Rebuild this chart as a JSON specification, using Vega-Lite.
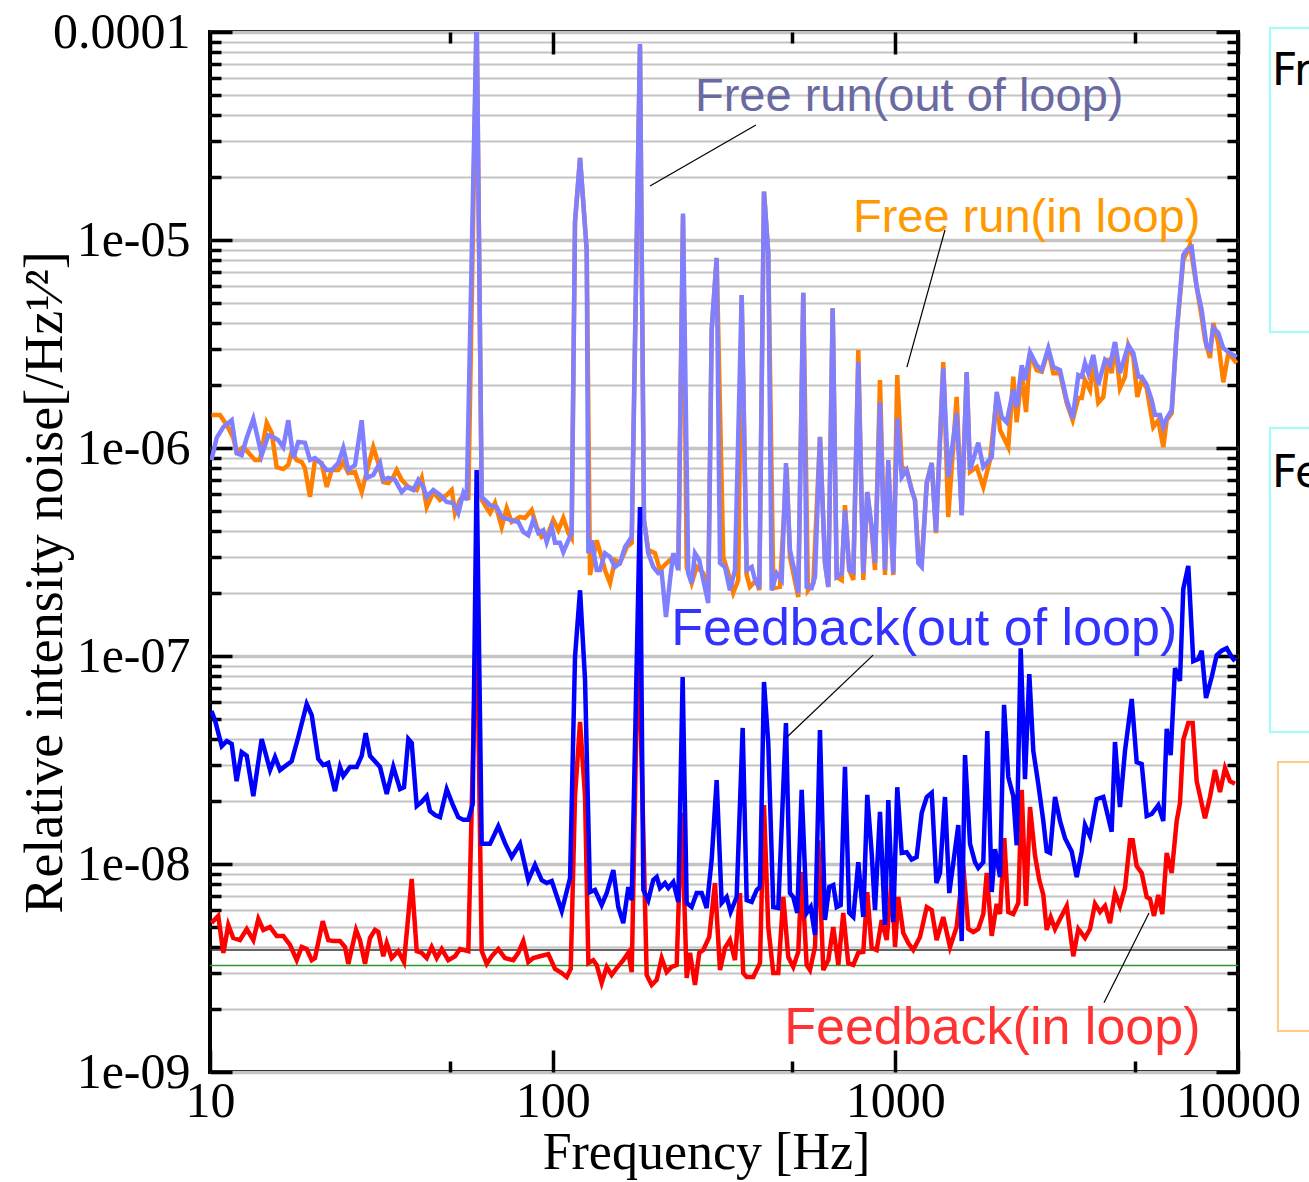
{
"$schema":"https://vega.github.io/schema/vega-lite/v6.json",
"width":1028,"height":1040,
"autosize":{"type":"none"},
"padding":{"left":210,"top":32,"right":71,"bottom":110},
"background":"white",
"config":{"view":{"stroke":"black","strokeWidth":4},"font":"Liberation Sans"},
"datasets":{
"free_in":[{"f":10.1,"v":1.44e-6},{"f":10.69,"v":1.44e-6},{"f":11.19,"v":1.29e-6},{"f":11.69,"v":1.12e-6},{"f":11.96,"v":9.57e-7},{"f":12.51,"v":1.01e-6},{"f":13.53,"v":8.75e-7},{"f":13.99,"v":8.75e-7},{"f":14.64,"v":1.32e-6},{"f":15.14,"v":1.18e-6},{"f":15.65,"v":8.1e-7},{"f":16.36,"v":7.92e-7},{"f":16.92,"v":8.28e-7},{"f":17.31,"v":9.57e-7},{"f":17.91,"v":8.75e-7},{"f":18.52,"v":8.56e-7},{"f":18.93,"v":8.0e-7},{"f":19.58,"v":5.82e-7},{"f":20.25,"v":8.75e-7},{"f":21.18,"v":8.47e-7},{"f":21.91,"v":6.5e-7},{"f":22.66,"v":7.84e-7},{"f":23.68,"v":7.84e-7},{"f":24.49,"v":8.56e-7},{"f":25.33,"v":7.58e-7},{"f":26.49,"v":7.67e-7},{"f":27.71,"v":6.14e-7},{"f":28.66,"v":7.67e-7},{"f":29.96,"v":1.01e-6},{"f":30.99,"v":8.47e-7},{"f":32.04,"v":6.86e-7},{"f":33.14,"v":6.79e-7},{"f":34.27,"v":7.25e-7},{"f":35.06,"v":7.84e-7},{"f":36.26,"v":7.03e-7},{"f":37.91,"v":6.5e-7},{"f":40.11,"v":6.28e-7},{"f":41.48,"v":7.18e-7},{"f":42.9,"v":5.2e-7},{"f":44.85,"v":6.14e-7},{"f":46.91,"v":5.63e-7},{"f":49.07,"v":5.94e-7},{"f":50.74,"v":6.28e-7},{"f":51.88,"v":4.87e-7},{"f":53.65,"v":5.63e-7},{"f":55.49,"v":6.07e-7},{"f":56.73,"v":5.63e-7},{"f":60.0,"v":1.2e-4},{"f":62.07,"v":5.63e-7},{"f":64.21,"v":5.14e-7},{"f":65.64,"v":4.87e-7},{"f":67.87,"v":5.44e-7},{"f":71.0,"v":4.17e-7},{"f":73.43,"v":5.14e-7},{"f":75.93,"v":4.41e-7},{"f":80.3,"v":4.66e-7},{"f":83.04,"v":4.61e-7},{"f":86.85,"v":5.03e-7},{"f":89.83,"v":4.17e-7},{"f":92.9,"v":3.74e-7},{"f":97.12,"v":3.9e-7},{"f":100.4,"v":4.51e-7},{"f":103.9,"v":4.03e-7},{"f":107.4,"v":4.61e-7},{"f":111.1,"v":3.9e-7},{"f":113.6,"v":3.69e-7},{"f":116.2,"v":1.22e-5},{"f":120.2,"v":2.48e-5},{"f":125.7,"v":8.95e-6},{"f":128.5,"v":2.45e-7},{"f":134.4,"v":3.6e-7},{"f":139.0,"v":2.99e-7},{"f":142.1,"v":2.59e-7},{"f":147.0,"v":2.24e-7},{"f":152.0,"v":2.89e-7},{"f":157.2,"v":2.8e-7},{"f":164.4,"v":3.34e-7},{"f":170.1,"v":3.5e-7},{"f":179.8,"v":8.5e-5},{"f":184.7,"v":4.51e-7},{"f":190.1,"v":3.23e-7},{"f":198.9,"v":3.12e-7},{"f":205.7,"v":2.59e-7},{"f":215.1,"v":2.8e-7},{"f":224.9,"v":2.99e-7},{"f":232.6,"v":2.74e-7},{"f":240.1,"v":1.3e-5},{"f":246.1,"v":2.68e-7},{"f":254.5,"v":2.24e-7},{"f":263.2,"v":2.68e-7},{"f":275.1,"v":2.5e-7},{"f":284.5,"v":2.07e-7},{"f":291.1,"v":3.69e-6},{"f":301.0,"v":8.2e-6},{"f":314.7,"v":2.99e-7},{"f":325.4,"v":2.5e-7},{"f":336.5,"v":2.01e-7},{"f":348.0,"v":2.32e-7},{"f":356.1,"v":5.44e-6},{"f":368.3,"v":2.45e-7},{"f":376.5,"v":2.15e-7},{"f":393.9,"v":2.32e-7},{"f":400.9,"v":2.07e-7},{"f":413.7,"v":1.71e-5},{"f":425.8,"v":8.66e-6},{"f":440.4,"v":2.12e-7},{"f":460.6,"v":2.15e-7},{"f":481.8,"v":8.1e-7},{"f":492.6,"v":2.99e-7},{"f":520.9,"v":1.92e-7},{"f":538.7,"v":5.58e-6},{"f":555.9,"v":2.07e-7},{"f":576.2,"v":2.24e-7},{"f":602.6,"v":1.13e-6},{"f":623.3,"v":2.8e-7},{"f":637.4,"v":2.15e-7},{"f":656.4,"v":4.7e-6},{"f":674.3,"v":2.4e-7},{"f":697.3,"v":2.32e-7},{"f":712.9,"v":5.31e-7},{"f":733.8,"v":2.59e-7},{"f":754.0,"v":2.32e-7},{"f":779.7,"v":2.96e-6},{"f":806.3,"v":2.32e-7},{"f":828.2,"v":6.14e-7},{"f":853.0,"v":4.03e-7},{"f":872.2,"v":2.59e-7},{"f":902.0,"v":2.12e-6},{"f":932.8,"v":2.45e-7},{"f":953.7,"v":8.28e-7},{"f":986.3,"v":2.45e-7},{"f":1013,"v":2.24e-6},{"f":1044,"v":8.1e-7},{"f":1079,"v":7.84e-7},{"f":1116,"v":6.28e-7},{"f":1141,"v":5.63e-7},{"f":1167,"v":3.12e-7},{"f":1194,"v":2.89e-7},{"f":1235,"v":6.79e-7},{"f":1277,"v":8.47e-7},{"f":1314,"v":3.9e-7},{"f":1380,"v":2.59e-6},{"f":1427,"v":4.66e-7},{"f":1510,"v":1.76e-6},{"f":1562,"v":4.76e-7},{"f":1615,"v":2.29e-6},{"f":1652,"v":7.67e-7},{"f":1728,"v":8.1e-7},{"f":1806,"v":6.5e-7},{"f":1889,"v":8.75e-7},{"f":1976,"v":1.76e-6},{"f":2021,"v":1.22e-6},{"f":2136,"v":1.01e-6},{"f":2209,"v":2.2e-6},{"f":2260,"v":1.33e-6},{"f":2338,"v":2.29e-6},{"f":2406,"v":1.49e-6},{"f":2472,"v":2.86e-6},{"f":2585,"v":2.37e-6},{"f":2674,"v":2.33e-6},{"f":2795,"v":2.96e-6},{"f":2891,"v":2.29e-6},{"f":3024,"v":2.29e-6},{"f":3163,"v":1.65e-6},{"f":3293,"v":1.36e-6},{"f":3420,"v":1.74e-6},{"f":3499,"v":1.74e-6},{"f":3577,"v":2.12e-6},{"f":3699,"v":1.9e-6},{"f":3782,"v":2.56e-6},{"f":3911,"v":1.65e-6},{"f":4045,"v":1.76e-6},{"f":4183,"v":2.71e-6},{"f":4279,"v":2.29e-6},{"f":4376,"v":3.2e-6},{"f":4524,"v":1.94e-6},{"f":4680,"v":2.2e-6},{"f":4785,"v":3.12e-6},{"f":4949,"v":2.74e-6},{"f":5084,"v":1.76e-6},{"f":5236,"v":2.12e-6},{"f":5415,"v":1.94e-6},{"f":5660,"v":1.26e-6},{"f":5853,"v":1.36e-6},{"f":6053,"v":1.01e-6},{"f":6193,"v":1.36e-6},{"f":6404,"v":1.47e-6},{"f":6623,"v":3.57e-6},{"f":6923,"v":8.0e-6},{"f":7244,"v":9.45e-6},{"f":7577,"v":5.94e-6},{"f":7835,"v":4.26e-6},{"f":8010,"v":3.31e-6},{"f":8284,"v":2.71e-6},{"f":8470,"v":3.99e-6},{"f":8760,"v":3.2e-6},{"f":9060,"v":2.07e-6},{"f":9370,"v":2.86e-6},{"f":9913,"v":2.56e-6}],
"free_out":[{"f":10.1,"v":8.75e-7},{"f":10.46,"v":1.12e-6},{"f":10.94,"v":1.26e-6},{"f":11.57,"v":1.36e-6},{"f":11.96,"v":9.45e-7},{"f":12.37,"v":9.24e-7},{"f":12.8,"v":1.12e-6},{"f":13.38,"v":1.38e-6},{"f":14.15,"v":9.24e-7},{"f":14.8,"v":1.15e-6},{"f":15.3,"v":1.13e-6},{"f":15.82,"v":1.09e-6},{"f":16.36,"v":1.01e-6},{"f":16.92,"v":1.36e-6},{"f":17.51,"v":8.95e-7},{"f":18.1,"v":1.07e-6},{"f":18.93,"v":1.06e-6},{"f":19.58,"v":8.75e-7},{"f":20.25,"v":8.95e-7},{"f":20.94,"v":8.56e-7},{"f":21.91,"v":7.84e-7},{"f":22.66,"v":7.84e-7},{"f":23.68,"v":8.47e-7},{"f":24.49,"v":1.0e-6},{"f":25.33,"v":7.84e-7},{"f":26.49,"v":8.28e-7},{"f":27.71,"v":1.36e-6},{"f":28.66,"v":7.18e-7},{"f":29.96,"v":7.42e-7},{"f":31.34,"v":8.47e-7},{"f":32.04,"v":7.03e-7},{"f":33.14,"v":7.18e-7},{"f":34.67,"v":7.03e-7},{"f":36.26,"v":6.14e-7},{"f":37.5,"v":6.5e-7},{"f":39.21,"v":6.28e-7},{"f":40.54,"v":7.03e-7},{"f":41.94,"v":6.5e-7},{"f":42.9,"v":5.82e-7},{"f":44.85,"v":6.28e-7},{"f":46.91,"v":5.94e-7},{"f":49.07,"v":5.5e-7},{"f":51.29,"v":5.44e-7},{"f":53.03,"v":4.87e-7},{"f":54.86,"v":6.07e-7},{"f":56.13,"v":5.63e-7},{"f":60.0,"v":1.2e-4},{"f":62.07,"v":5.82e-7},{"f":65.64,"v":5.31e-7},{"f":68.66,"v":5.2e-7},{"f":71.0,"v":4.66e-7},{"f":75.08,"v":4.51e-7},{"f":79.37,"v":4.41e-7},{"f":82.08,"v":3.95e-7},{"f":84.9,"v":3.81e-7},{"f":87.79,"v":4.51e-7},{"f":90.8,"v":3.9e-7},{"f":93.91,"v":4.03e-7},{"f":96.07,"v":3.53e-7},{"f":99.36,"v":4.17e-7},{"f":101.6,"v":3.5e-7},{"f":105.0,"v":3.5e-7},{"f":107.4,"v":3.16e-7},{"f":111.1,"v":3.6e-7},{"f":113.6,"v":3.9e-7},{"f":116.2,"v":1.22e-5},{"f":120.2,"v":2.48e-5},{"f":125.7,"v":8.95e-6},{"f":127.1,"v":3.12e-7},{"f":130.0,"v":3.6e-7},{"f":134.4,"v":2.59e-7},{"f":137.4,"v":2.59e-7},{"f":142.1,"v":3.12e-7},{"f":147.0,"v":2.99e-7},{"f":152.0,"v":2.68e-7},{"f":157.2,"v":2.8e-7},{"f":162.6,"v":3.34e-7},{"f":170.1,"v":3.74e-7},{"f":179.8,"v":8.75e-5},{"f":184.7,"v":4.51e-7},{"f":190.1,"v":3.12e-7},{"f":196.6,"v":2.68e-7},{"f":203.3,"v":2.5e-7},{"f":208.0,"v":2.53e-7},{"f":214.1,"v":1.54e-7},{"f":220.0,"v":2.32e-7},{"f":224.9,"v":3.12e-7},{"f":232.6,"v":2.59e-7},{"f":240.1,"v":1.34e-5},{"f":248.7,"v":2.5e-7},{"f":254.5,"v":2.24e-7},{"f":260.2,"v":3.12e-7},{"f":267.8,"v":2.89e-7},{"f":275.1,"v":2.32e-7},{"f":284.5,"v":1.8e-7},{"f":291.1,"v":3.69e-6},{"f":301.0,"v":8.2e-6},{"f":307.8,"v":2.8e-7},{"f":318.3,"v":2.68e-7},{"f":329.1,"v":2.07e-7},{"f":340.4,"v":2.59e-7},{"f":356.1,"v":5.44e-6},{"f":368.3,"v":2.59e-7},{"f":380.9,"v":2.68e-7},{"f":389.5,"v":2.32e-7},{"f":400.9,"v":2.12e-7},{"f":413.7,"v":1.71e-5},{"f":425.8,"v":8.66e-6},{"f":435.6,"v":2.07e-7},{"f":450.5,"v":2.5e-7},{"f":465.9,"v":2.32e-7},{"f":479.5,"v":8.47e-7},{"f":492.6,"v":3.23e-7},{"f":509.5,"v":2.5e-7},{"f":520.9,"v":2.01e-7},{"f":538.7,"v":5.58e-6},{"f":551.1,"v":2.15e-7},{"f":570.0,"v":2.12e-7},{"f":582.9,"v":2.4e-7},{"f":602.6,"v":1.13e-6},{"f":623.3,"v":2.8e-7},{"f":637.4,"v":2.15e-7},{"f":656.4,"v":4.7e-6},{"f":674.3,"v":2.4e-7},{"f":697.3,"v":2.5e-7},{"f":712.9,"v":5.03e-7},{"f":733.8,"v":2.59e-7},{"f":754.0,"v":2.53e-7},{"f":779.7,"v":2.59e-6},{"f":806.3,"v":2.5e-7},{"f":828.2,"v":6.14e-7},{"f":853.0,"v":4.17e-7},{"f":872.2,"v":2.8e-7},{"f":902.0,"v":1.66e-6},{"f":932.8,"v":2.59e-7},{"f":953.7,"v":8.75e-7},{"f":986.3,"v":2.5e-7},{"f":1013,"v":1.39e-6},{"f":1044,"v":7.25e-7},{"f":1079,"v":7.84e-7},{"f":1116,"v":6.28e-7},{"f":1141,"v":5.63e-7},{"f":1167,"v":2.8e-7},{"f":1194,"v":2.68e-7},{"f":1235,"v":6.79e-7},{"f":1277,"v":8.47e-7},{"f":1314,"v":3.95e-7},{"f":1380,"v":2.43e-6},{"f":1427,"v":7.25e-7},{"f":1510,"v":1.47e-6},{"f":1562,"v":4.76e-7},{"f":1615,"v":2.32e-6},{"f":1652,"v":7.84e-7},{"f":1746,"v":1.06e-6},{"f":1806,"v":8.1e-7},{"f":1911,"v":9.05e-7},{"f":1976,"v":1.86e-6},{"f":2044,"v":1.41e-6},{"f":2113,"v":1.33e-6},{"f":2209,"v":1.9e-6},{"f":2260,"v":1.57e-6},{"f":2338,"v":2.5e-6},{"f":2390,"v":2.12e-6},{"f":2472,"v":2.89e-6},{"f":2585,"v":2.5e-6},{"f":2674,"v":2.37e-6},{"f":2795,"v":3.02e-6},{"f":2891,"v":2.45e-6},{"f":3024,"v":2.37e-6},{"f":3163,"v":1.7e-6},{"f":3293,"v":1.39e-6},{"f":3420,"v":2.24e-6},{"f":3499,"v":2.2e-6},{"f":3577,"v":2.56e-6},{"f":3657,"v":2.29e-6},{"f":3782,"v":2.8e-6},{"f":3911,"v":2.01e-6},{"f":4092,"v":2.65e-6},{"f":4231,"v":2.5e-6},{"f":4376,"v":3.23e-6},{"f":4524,"v":2.29e-6},{"f":4785,"v":3.12e-6},{"f":4949,"v":2.86e-6},{"f":5118,"v":2.2e-6},{"f":5236,"v":2.2e-6},{"f":5415,"v":2.01e-6},{"f":5600,"v":1.7e-6},{"f":5725,"v":1.44e-6},{"f":5921,"v":1.44e-6},{"f":6053,"v":1.26e-6},{"f":6193,"v":1.39e-6},{"f":6404,"v":1.52e-6},{"f":6623,"v":3.61e-6},{"f":6923,"v":8.47e-6},{"f":7083,"v":8.95e-6},{"f":7326,"v":9.24e-6},{"f":7577,"v":5.94e-6},{"f":7835,"v":4.61e-6},{"f":8103,"v":3.06e-6},{"f":8284,"v":2.96e-6},{"f":8470,"v":3.78e-6},{"f":8760,"v":3.57e-6},{"f":9060,"v":3.02e-6},{"f":9477,"v":2.86e-6},{"f":9913,"v":2.74e-6}],
"fb_in":[{"f":10.1,"v":5.2e-9},{"f":10.57,"v":5.63e-9},{"f":10.94,"v":3.74e-9},{"f":11.31,"v":5.09e-9},{"f":11.69,"v":4.41e-9},{"f":12.23,"v":4.31e-9},{"f":12.8,"v":4.87e-9},{"f":13.38,"v":4.31e-9},{"f":13.84,"v":5.44e-9},{"f":14.31,"v":4.82e-9},{"f":14.97,"v":4.98e-9},{"f":15.65,"v":4.51e-9},{"f":16.36,"v":4.51e-9},{"f":17.12,"v":4.08e-9},{"f":17.91,"v":3.45e-9},{"f":18.52,"v":3.99e-9},{"f":19.15,"v":3.9e-9},{"f":19.81,"v":3.45e-9},{"f":20.25,"v":3.53e-9},{"f":21.33,"v":5.31e-9},{"f":22.14,"v":4.31e-9},{"f":22.9,"v":4.26e-9},{"f":23.95,"v":4.26e-9},{"f":24.77,"v":3.99e-9},{"f":25.33,"v":3.31e-9},{"f":26.68,"v":4.82e-9},{"f":27.4,"v":4.31e-9},{"f":28.34,"v":3.31e-9},{"f":29.31,"v":4.41e-9},{"f":30.31,"v":4.82e-9},{"f":30.99,"v":4.71e-9},{"f":32.04,"v":3.6e-9},{"f":32.79,"v":4.17e-9},{"f":33.9,"v":3.53e-9},{"f":35.43,"v":3.81e-9},{"f":36.83,"v":3.38e-9},{"f":38.78,"v":8.47e-9},{"f":40.11,"v":3.81e-9},{"f":41.48,"v":3.74e-9},{"f":42.9,"v":3.53e-9},{"f":44.36,"v":3.99e-9},{"f":45.88,"v":3.53e-9},{"f":47.46,"v":3.9e-9},{"f":49.59,"v":3.45e-9},{"f":51.88,"v":3.6e-9},{"f":53.65,"v":3.9e-9},{"f":56.73,"v":3.81e-9},{"f":60.0,"v":1.86e-7},{"f":62.07,"v":3.81e-9},{"f":64.21,"v":3.31e-9},{"f":66.38,"v":3.6e-9},{"f":69.39,"v":3.9e-9},{"f":72.59,"v":3.53e-9},{"f":76.75,"v":3.45e-9},{"f":79.37,"v":3.74e-9},{"f":82.08,"v":4.26e-9},{"f":84.9,"v":3.38e-9},{"f":87.79,"v":3.53e-9},{"f":91.84,"v":3.6e-9},{"f":97.12,"v":3.69e-9},{"f":101.6,"v":3.13e-9},{"f":106.3,"v":2.99e-9},{"f":109.9,"v":2.86e-9},{"f":112.9,"v":3.13e-9},{"f":116.2,"v":2.12e-8},{"f":120.2,"v":4.82e-8},{"f":124.3,"v":2.12e-8},{"f":127.1,"v":3.34e-9},{"f":131.4,"v":3.45e-9},{"f":134.4,"v":3.27e-9},{"f":139.0,"v":2.68e-9},{"f":143.8,"v":3.2e-9},{"f":148.6,"v":2.93e-9},{"f":153.7,"v":3.16e-9},{"f":160.7,"v":3.45e-9},{"f":166.3,"v":3.74e-9},{"f":170.1,"v":3.02e-9},{"f":177.8,"v":1.44e-7},{"f":188.1,"v":2.93e-9},{"f":194.5,"v":2.62e-9},{"f":201.2,"v":2.77e-9},{"f":208.0,"v":3.53e-9},{"f":215.1,"v":3.02e-9},{"f":222.5,"v":3.2e-9},{"f":230.1,"v":3.27e-9},{"f":237.9,"v":1.76e-8},{"f":246.1,"v":2.83e-9},{"f":251.6,"v":3.74e-9},{"f":260.2,"v":2.62e-9},{"f":267.8,"v":3.74e-9},{"f":275.1,"v":3.86e-9},{"f":286.4,"v":4.46e-9},{"f":297.6,"v":8.1e-9},{"f":307.8,"v":3.09e-9},{"f":318.3,"v":3.95e-9},{"f":329.1,"v":4.31e-9},{"f":340.4,"v":3.45e-9},{"f":352.0,"v":7.25e-9},{"f":359.9,"v":2.99e-9},{"f":368.3,"v":2.86e-9},{"f":385.0,"v":2.86e-9},{"f":402.7,"v":3.34e-9},{"f":413.7,"v":1.92e-8},{"f":425.8,"v":4.98e-9},{"f":440.4,"v":2.99e-9},{"f":455.4,"v":2.99e-9},{"f":471.0,"v":6.94e-9},{"f":487.1,"v":3.57e-9},{"f":503.6,"v":3.2e-9},{"f":520.9,"v":3.78e-9},{"f":533.0,"v":9.15e-9},{"f":551.1,"v":3.27e-9},{"f":563.5,"v":3.09e-9},{"f":582.9,"v":3.99e-9},{"f":595.8,"v":1.3e-8},{"f":616.3,"v":3.09e-9},{"f":637.4,"v":3.45e-9},{"f":659.0,"v":4.98e-9},{"f":681.7,"v":3.27e-9},{"f":704.7,"v":5.82e-9},{"f":728.8,"v":3.34e-9},{"f":754.0,"v":3.27e-9},{"f":779.7,"v":3.74e-9},{"f":806.3,"v":3.78e-9},{"f":828.2,"v":7.33e-9},{"f":853.0,"v":3.95e-9},{"f":882.2,"v":3.86e-9},{"f":912.4,"v":5.38e-9},{"f":943.4,"v":4.31e-9},{"f":975.7,"v":8.37e-9},{"f":998,"v":3.99e-9},{"f":1020,"v":6.94e-9},{"f":1055,"v":4.66e-9},{"f":1091,"v":4.17e-9},{"f":1128,"v":3.86e-9},{"f":1180,"v":4.46e-9},{"f":1235,"v":6.21e-9},{"f":1277,"v":6.0e-9},{"f":1320,"v":4.31e-9},{"f":1380,"v":5.56e-9},{"f":1444,"v":3.99e-9},{"f":1510,"v":4.98e-9},{"f":1579,"v":9.78e-9},{"f":1633,"v":4.87e-9},{"f":1689,"v":4.71e-9},{"f":1746,"v":4.87e-9},{"f":1806,"v":5.75e-9},{"f":1848,"v":9.05e-9},{"f":1911,"v":4.51e-9},{"f":1976,"v":6.43e-9},{"f":2021,"v":5.75e-9},{"f":2080,"v":1.33e-8},{"f":2136,"v":5.88e-9},{"f":2209,"v":5.75e-9},{"f":2285,"v":6.5e-9},{"f":2338,"v":2.27e-8},{"f":2406,"v":6.28e-9},{"f":2472,"v":1.88e-8},{"f":2556,"v":1.1e-8},{"f":2631,"v":8.37e-9},{"f":2703,"v":7.1e-9},{"f":2765,"v":4.82e-9},{"f":2841,"v":5.56e-9},{"f":2924,"v":4.87e-9},{"f":3024,"v":5.44e-9},{"f":3163,"v":6.28e-9},{"f":3306,"v":3.6e-9},{"f":3420,"v":4.87e-9},{"f":3577,"v":4.41e-9},{"f":3699,"v":4.87e-9},{"f":3826,"v":6.43e-9},{"f":3956,"v":5.88e-9},{"f":4092,"v":6.28e-9},{"f":4231,"v":5.2e-9},{"f":4376,"v":7.25e-9},{"f":4524,"v":6.28e-9},{"f":4680,"v":7.67e-9},{"f":4840,"v":1.3e-8},{"f":4929,"v":1.3e-8},{"f":5063,"v":9.78e-9},{"f":5236,"v":9.05e-9},{"f":5415,"v":6.94e-9},{"f":5536,"v":6.79e-9},{"f":5687,"v":5.63e-9},{"f":5853,"v":7.1e-9},{"f":6013,"v":5.75e-9},{"f":6193,"v":1.13e-8},{"f":6404,"v":9.05e-9},{"f":6623,"v":1.61e-8},{"f":6771,"v":1.96e-8},{"f":6923,"v":3.95e-8},{"f":7160,"v":4.76e-8},{"f":7374,"v":4.76e-8},{"f":7577,"v":2.5e-8},{"f":8010,"v":1.66e-8},{"f":8284,"v":2.1e-8},{"f":8568,"v":2.83e-8},{"f":8862,"v":2.22e-8},{"f":9163,"v":2.89e-8},{"f":9477,"v":2.5e-8},{"f":9800,"v":2.43e-8}],
"fb_out":[{"f":10.1,"v":5.44e-8},{"f":10.34,"v":4.92e-8},{"f":10.82,"v":3.69e-8},{"f":11.19,"v":3.9e-8},{"f":11.57,"v":3.78e-8},{"f":11.96,"v":2.5e-8},{"f":12.37,"v":3.45e-8},{"f":12.8,"v":3.31e-8},{"f":13.38,"v":2.12e-8},{"f":14.15,"v":3.99e-8},{"f":14.97,"v":2.83e-8},{"f":15.48,"v":3.27e-8},{"f":16.01,"v":2.83e-8},{"f":17.31,"v":3.12e-8},{"f":18.1,"v":4.08e-8},{"f":19.15,"v":5.88e-8},{"f":19.81,"v":5.2e-8},{"f":20.7,"v":3.2e-8},{"f":21.41,"v":2.99e-8},{"f":22.14,"v":3.06e-8},{"f":23.16,"v":2.24e-8},{"f":23.95,"v":2.93e-8},{"f":24.49,"v":2.65e-8},{"f":25.62,"v":2.93e-8},{"f":26.8,"v":2.93e-8},{"f":27.71,"v":3.31e-8},{"f":28.47,"v":4.26e-8},{"f":29.31,"v":3.31e-8},{"f":31.34,"v":2.93e-8},{"f":32.79,"v":2.17e-8},{"f":34.27,"v":2.93e-8},{"f":35.85,"v":2.29e-8},{"f":36.83,"v":2.34e-8},{"f":37.91,"v":3.99e-8},{"f":38.78,"v":3.82e-8},{"f":40.11,"v":1.9e-8},{"f":41.48,"v":1.99e-8},{"f":42.9,"v":2.12e-8},{"f":43.86,"v":1.8e-8},{"f":45.35,"v":1.72e-8},{"f":46.91,"v":1.68e-8},{"f":49.07,"v":2.29e-8},{"f":51.29,"v":1.9e-8},{"f":53.03,"v":1.68e-8},{"f":54.86,"v":1.63e-8},{"f":56.73,"v":1.63e-8},{"f":58.43,"v":1.94e-8},{"f":60.0,"v":7.84e-7},{"f":62.07,"v":1.25e-8},{"f":65.64,"v":1.25e-8},{"f":69.39,"v":1.52e-8},{"f":72.59,"v":1.26e-8},{"f":75.93,"v":1.08e-8},{"f":80.3,"v":1.25e-8},{"f":84.9,"v":8.37e-9},{"f":88.8,"v":9.9e-9},{"f":92.9,"v":8.37e-9},{"f":96.07,"v":8.1e-9},{"f":99.36,"v":8.28e-9},{"f":106.3,"v":5.94e-9},{"f":112.4,"v":8.56e-9},{"f":116.2,"v":9.9e-8},{"f":120.2,"v":2.07e-7},{"f":124.3,"v":7.67e-8},{"f":128.5,"v":7.33e-9},{"f":132.9,"v":7.5e-9},{"f":139.0,"v":6.35e-9},{"f":143.8,"v":7.25e-9},{"f":150.3,"v":9.35e-9},{"f":155.4,"v":6.21e-9},{"f":160.7,"v":5.2e-9},{"f":166.3,"v":7.75e-9},{"f":170.1,"v":6.7e-9},{"f":179.8,"v":5.2e-7},{"f":183.9,"v":7.5e-9},{"f":190.1,"v":6.7e-9},{"f":196.6,"v":8.37e-9},{"f":201.2,"v":8.66e-9},{"f":205.7,"v":7.67e-9},{"f":212.7,"v":8.1e-9},{"f":217.5,"v":7.67e-9},{"f":224.9,"v":8.19e-9},{"f":232.6,"v":6.57e-9},{"f":239.5,"v":7.92e-8},{"f":246.1,"v":6.5e-9},{"f":254.5,"v":6.21e-9},{"f":263.2,"v":7.25e-9},{"f":272.2,"v":7.25e-9},{"f":281.4,"v":6.14e-9},{"f":291.1,"v":1.05e-8},{"f":301.0,"v":2.53e-8},{"f":311.3,"v":6.5e-9},{"f":321.9,"v":6.94e-9},{"f":330.6,"v":5.88e-9},{"f":344.3,"v":6.94e-9},{"f":358.5,"v":4.51e-8},{"f":368.3,"v":6.7e-9},{"f":380.9,"v":6.57e-9},{"f":393.9,"v":7.5e-9},{"f":402.7,"v":7.75e-9},{"f":413.7,"v":7.5e-8},{"f":425.8,"v":3.82e-8},{"f":440.4,"v":6.21e-9},{"f":455.4,"v":6.14e-9},{"f":479.5,"v":4.76e-8},{"f":492.6,"v":7.25e-9},{"f":503.6,"v":6.94e-9},{"f":517.4,"v":5.82e-9},{"f":533.0,"v":2.27e-8},{"f":551.1,"v":5.82e-9},{"f":566.2,"v":6.21e-9},{"f":582.9,"v":4.56e-9},{"f":602.6,"v":4.41e-8},{"f":623.3,"v":5.38e-9},{"f":641.5,"v":7.75e-9},{"f":659.0,"v":7.92e-9},{"f":674.3,"v":6.21e-9},{"f":692.6,"v":6.35e-9},{"f":712.9,"v":2.93e-8},{"f":733.8,"v":5.82e-9},{"f":754.0,"v":5.56e-9},{"f":779.7,"v":1.02e-8},{"f":806.3,"v":5.56e-9},{"f":828.2,"v":2.15e-8},{"f":853.0,"v":1.13e-8},{"f":872.2,"v":6.0e-9},{"f":902.0,"v":1.78e-8},{"f":932.8,"v":5.09e-9},{"f":953.7,"v":2.03e-8},{"f":986.3,"v":5.26e-9},{"f":1013,"v":2.34e-8},{"f":1044,"v":1.13e-8},{"f":1079,"v":1.14e-8},{"f":1116,"v":1.05e-8},{"f":1154,"v":1.08e-8},{"f":1194,"v":1.76e-8},{"f":1235,"v":2.1e-8},{"f":1277,"v":2.2e-8},{"f":1318,"v":8.1e-9},{"f":1350,"v":9.05e-9},{"f":1396,"v":2.1e-8},{"f":1437,"v":7.25e-9},{"f":1527,"v":1.54e-8},{"f":1562,"v":4.26e-9},{"f":1597,"v":3.34e-8},{"f":1652,"v":1.25e-8},{"f":1708,"v":1.02e-8},{"f":1746,"v":9.57e-9},{"f":1806,"v":1.02e-8},{"f":1855,"v":4.36e-8},{"f":1911,"v":7.33e-9},{"f":1954,"v":1.18e-8},{"f":2021,"v":8.66e-9},{"f":2076,"v":5.82e-8},{"f":2136,"v":2.62e-8},{"f":2209,"v":2.12e-8},{"f":2260,"v":1.23e-8},{"f":2322,"v":1.09e-7},{"f":2390,"v":2.56e-8},{"f":2460,"v":8.19e-8},{"f":2527,"v":3.5e-8},{"f":2613,"v":2.43e-8},{"f":2703,"v":1.61e-8},{"f":2765,"v":1.15e-8},{"f":2828,"v":1.13e-8},{"f":2924,"v":2.1e-8},{"f":3024,"v":1.61e-8},{"f":3127,"v":1.33e-8},{"f":3271,"v":1.15e-8},{"f":3383,"v":8.66e-9},{"f":3499,"v":1.15e-8},{"f":3577,"v":1.54e-8},{"f":3699,"v":1.36e-8},{"f":3870,"v":2.05e-8},{"f":4045,"v":2.1e-8},{"f":4279,"v":1.43e-8},{"f":4376,"v":3.86e-8},{"f":4524,"v":1.88e-8},{"f":4680,"v":3.5e-8},{"f":4896,"v":6.21e-8},{"f":5063,"v":3.09e-8},{"f":5236,"v":3.02e-8},{"f":5415,"v":1.7e-8},{"f":5600,"v":1.74e-8},{"f":5853,"v":1.92e-8},{"f":6053,"v":1.61e-8},{"f":6193,"v":4.46e-8},{"f":6361,"v":3.34e-8},{"f":6549,"v":8.75e-8},{"f":6771,"v":7.58e-8},{"f":6923,"v":2.1e-7},{"f":7160,"v":2.71e-7},{"f":7405,"v":9.45e-8},{"f":7657,"v":9.67e-8},{"f":7835,"v":1.06e-7},{"f":8066,"v":6.28e-8},{"f":8380,"v":7.92e-8},{"f":8666,"v":1.01e-7},{"f":8963,"v":1.06e-7},{"f":9268,"v":1.09e-7},{"f":9585,"v":9.9e-8},{"f":9800,"v":9.45e-8}]
},
"resolve":{"axis":{"x":"independent","y":"independent"}},
"layer":[
{"data":{"values":[{}]},"mark":{"type":"rule","color":"#303030","strokeWidth":1.3},
 "encoding":{"y":{"datum":3.86e-9,"type":"quantitative","scale":{"type":"log","domain":[1e-9,0.0001],"nice":false},"axis":null}}},
{"data":{"values":[{}]},"mark":{"type":"rule","color":"#2e9a2e","strokeWidth":1.5},
 "encoding":{"y":{"datum":3.25e-9,"type":"quantitative","scale":{"type":"log","domain":[1e-9,0.0001],"nice":false},"axis":null}}},
{"data":{"name":"free_in"},"mark":{"type":"line","color":"#ff8000","strokeWidth":4.5,"clip":true},
 "encoding":{
  "x":{"field":"f","type":"quantitative","scale":{"type":"log","domain":[10,10000],"nice":false},
   "axis":{"orient":"bottom","values":[10,50,100,500,1000,5000,10000],"title":"Frequency [Hz]","titleFont":"Liberation Serif","titleFontSize":52,"titleFontWeight":"normal","titleColor":"black","titleX":496,"titleY":96,"titleBaseline":"alphabetic","titleAlign":"center","titleAnchor":null,
    "labelExpr":"datum.value==10?'10':datum.value==100?'100':datum.value==1000?'1000':datum.value==10000?'10000':''",
    "labelFont":"Liberation Serif","labelFontSize":50,"labelColor":"black","labelPadding":26,"labelFlush":false,"labelOverlap":false,"labelBound":false,
    "tickColor":"black","tickWidth":3.5,"tickSize":{"condition":{"test":"datum.value==50||datum.value==500||datum.value==5000","value":-11},"value":-22},
    "domain":false,"grid":false}},
  "y":{"field":"v","type":"quantitative","scale":{"type":"log","domain":[1e-9,0.0001],"nice":false},
   "axis":{"orient":"left","values":[1e-9,2e-9,3e-9,4e-9,5e-9,6e-9,7e-9,8e-9,9e-9,1e-8,2e-8,3e-8,4e-8,5e-8,6e-8,7e-8,8e-8,9e-8,1e-7,2e-7,3e-7,4e-7,5e-7,6e-7,7e-7,8e-7,9e-7,1e-6,2e-6,3e-6,4e-6,5e-6,6e-6,7e-6,8e-6,9e-6,1e-5,2e-5,3e-5,4e-5,5e-5,6e-5,7e-5,8e-5,9e-5,0.0001],
    "title":"Relative intensity noise[/Hz¹⁄²]","titleFont":"Liberation Serif","titleFontSize":54,"titleFontWeight":"normal","titleColor":"black","titleX":-149,"titleY":550,"titleAngle":-90,"titleBaseline":"alphabetic","titleAlign":"center","titleAnchor":null,
    "labelExpr":"datum.value==0.0001?'0.0001':datum.value==1e-5?'1e-05':datum.value==1e-6?'1e-06':datum.value==1e-7?'1e-07':datum.value==1e-8?'1e-08':datum.value==1e-9?'1e-09':''",
    "labelFont":"Liberation Serif","labelFontSize":50,"labelColor":"black","labelPadding":42,"labelOverlap":false,"labelBound":false,"labelFlush":false,
    "tickColor":"black","tickWidth":3.5,"tickSize":{"condition":{"test":"datum.value==1e-9||datum.value==1e-8||datum.value==1e-7||datum.value==1e-6||datum.value==1e-5||datum.value==0.0001","value":-22},"value":-11},
    "grid":true,"gridColor":"#c4c4c4","gridWidth":{"condition":{"test":"datum.value==1e-9||datum.value==1e-8||datum.value==1e-7||datum.value==1e-6||datum.value==1e-5||datum.value==0.0001","value":3.5},"value":2},
    "domain":false}}}},
{"data":{"name":"free_out"},"mark":{"type":"line","color":"#8080ff","strokeWidth":4.5,"clip":true},
 "encoding":{"x":{"field":"f","type":"quantitative","scale":{"type":"log","domain":[10,10000],"nice":false},"axis":null},
  "y":{"field":"v","type":"quantitative","scale":{"type":"log","domain":[1e-9,0.0001],"nice":false},"axis":null}}},
{"data":{"name":"fb_in"},"mark":{"type":"line","color":"#ff0000","strokeWidth":4.5,"clip":true},
 "encoding":{"x":{"field":"f","type":"quantitative","scale":{"type":"log","domain":[10,10000],"nice":false},"axis":null},
  "y":{"field":"v","type":"quantitative","scale":{"type":"log","domain":[1e-9,0.0001],"nice":false},"axis":null}}},
{"data":{"name":"fb_out"},"mark":{"type":"line","color":"#0000ff","strokeWidth":4.5,"clip":true},
 "encoding":{"x":{"field":"f","type":"quantitative","scale":{"type":"log","domain":[10,10000],"nice":false},"axis":null},
  "y":{"field":"v","type":"quantitative","scale":{"type":"log","domain":[1e-9,0.0001],"nice":false},"axis":null}}},
{"data":{"values":[{}]},"mark":{"type":"rule","color":"black","strokeWidth":1.2},
 "encoding":{"x":{"datum":392,"type":"quantitative","scale":{"type":"log","domain":[10,10000],"nice":false},"axis":null},"x2":{"datum":192.3},
  "y":{"datum":3.57e-5,"type":"quantitative","scale":{"type":"log","domain":[1e-9,0.0001],"nice":false},"axis":null},"y2":{"datum":1.82e-5}}},
{"data":{"values":[{}]},"mark":{"type":"rule","color":"black","strokeWidth":1.2},
 "encoding":{"x":{"datum":1396,"type":"quantitative","scale":{"type":"log","domain":[10,10000],"nice":false},"axis":null},"x2":{"datum":1081},
  "y":{"datum":1.117e-5,"type":"quantitative","scale":{"type":"log","domain":[1e-9,0.0001],"nice":false},"axis":null},"y2":{"datum":2.45e-6}}},
{"data":{"values":[{}]},"mark":{"type":"rule","color":"black","strokeWidth":1.2},
 "encoding":{"x":{"datum":861,"type":"quantitative","scale":{"type":"log","domain":[10,10000],"nice":false},"axis":null},"x2":{"datum":483},
  "y":{"datum":1.01e-7,"type":"quantitative","scale":{"type":"log","domain":[1e-9,0.0001],"nice":false},"axis":null},"y2":{"datum":4.08e-8}}},
{"data":{"values":[{}]},"mark":{"type":"rule","color":"black","strokeWidth":1.2},
 "encoding":{"x":{"datum":5500,"type":"quantitative","scale":{"type":"log","domain":[10,10000],"nice":false},"axis":null},"x2":{"datum":4063},
  "y":{"datum":5.81e-9,"type":"quantitative","scale":{"type":"log","domain":[1e-9,0.0001],"nice":false},"axis":null},"y2":{"datum":2.15e-9}}},
{"data":{"values":[{}]},"mark":{"type":"text","text":"Free run(out of loop)","font":"Liberation Sans","fontSize":47,"color":"#6a6aa2","align":"left","baseline":"alphabetic"},
 "encoding":{"x":{"datum":260.2,"type":"quantitative","scale":{"type":"log","domain":[10,10000],"nice":false},
   "axis":{"orient":"top","values":[10,50,100,500,1000,5000,10000],"labels":false,"title":null,"domain":false,"grid":false,"tickColor":"black","tickWidth":3.5,"tickSize":{"condition":{"test":"datum.value==50||datum.value==500||datum.value==5000","value":-11},"value":-22}}},
  "y":{"datum":4.17e-5,"type":"quantitative","scale":{"type":"log","domain":[1e-9,0.0001],"nice":false},
   "axis":{"orient":"right","values":[1e-9,2e-9,3e-9,4e-9,5e-9,6e-9,7e-9,8e-9,9e-9,1e-8,2e-8,3e-8,4e-8,5e-8,6e-8,7e-8,8e-8,9e-8,1e-7,2e-7,3e-7,4e-7,5e-7,6e-7,7e-7,8e-7,9e-7,1e-6,2e-6,3e-6,4e-6,5e-6,6e-6,7e-6,8e-6,9e-6,1e-5,2e-5,3e-5,4e-5,5e-5,6e-5,7e-5,8e-5,9e-5,0.0001],"labels":false,"title":null,"domain":false,"grid":false,"tickColor":"black","tickWidth":3.5,"tickSize":{"condition":{"test":"datum.value==1e-9||datum.value==1e-8||datum.value==1e-7||datum.value==1e-6||datum.value==1e-5||datum.value==0.0001","value":-22},"value":-11}}}}},
{"data":{"values":[{}]},"mark":{"type":"text","text":"Free run(in loop)","font":"Liberation Sans","fontSize":47,"color":"#ff9900","align":"left","baseline":"alphabetic"},
 "encoding":{"x":{"datum":752,"type":"quantitative","scale":{"type":"log","domain":[10,10000],"nice":false},"axis":null},
  "y":{"datum":1.093e-5,"type":"quantitative","scale":{"type":"log","domain":[1e-9,0.0001],"nice":false},"axis":null}}},
{"data":{"values":[{}]},"mark":{"type":"text","text":"Feedback(out of loop)","font":"Liberation Sans","fontSize":52,"color":"#3333ff","align":"left","baseline":"alphabetic"},
 "encoding":{"x":{"datum":222,"type":"quantitative","scale":{"type":"log","domain":[10,10000],"nice":false},"axis":null},
  "y":{"datum":1.13e-7,"type":"quantitative","scale":{"type":"log","domain":[1e-9,0.0001],"nice":false},"axis":null}}},
{"data":{"values":[{}]},"mark":{"type":"text","text":"Feedback(in loop)","font":"Liberation Sans","fontSize":52,"color":"#ff3333","align":"left","baseline":"alphabetic"},
 "encoding":{"x":{"datum":474,"type":"quantitative","scale":{"type":"log","domain":[10,10000],"nice":false},"axis":null},
  "y":{"datum":1.364e-9,"type":"quantitative","scale":{"type":"log","domain":[1e-9,0.0001],"nice":false},"axis":null}}},
{"data":{"values":[{}]},"mark":{"type":"rect","fill":"white","fillOpacity":0,"stroke":"#99ffff","strokeWidth":2},
 "encoding":{"x":{"datum":12400,"type":"quantitative","scale":{"type":"log","domain":[10,10000],"nice":false},"axis":null},"x2":{"datum":20000},
  "y":{"datum":1.045e-4,"type":"quantitative","scale":{"type":"log","domain":[1e-9,0.0001],"nice":false},"axis":null},"y2":{"datum":3.61e-6}}},
{"data":{"values":[{}]},"mark":{"type":"rect","fill":"white","fillOpacity":0,"stroke":"#99ffff","strokeWidth":2},
 "encoding":{"x":{"datum":12400,"type":"quantitative","scale":{"type":"log","domain":[10,10000],"nice":false},"axis":null},"x2":{"datum":20000},
  "y":{"datum":1.248e-6,"type":"quantitative","scale":{"type":"log","domain":[1e-9,0.0001],"nice":false},"axis":null},"y2":{"datum":4.31e-8}}},
{"data":{"values":[{}]},"mark":{"type":"rect","fill":"white","fillOpacity":0,"stroke":"#ffcc88","strokeWidth":2},
 "encoding":{"x":{"datum":13080,"type":"quantitative","scale":{"type":"log","domain":[10,10000],"nice":false},"axis":null},"x2":{"datum":20000},
  "y":{"datum":3.09e-8,"type":"quantitative","scale":{"type":"log","domain":[1e-9,0.0001],"nice":false},"axis":null},"y2":{"datum":1.574e-9}}},
{"data":{"values":[{}]},"mark":{"type":"text","text":"Free run","font":"DejaVu Sans","fontSize":44,"color":"black","align":"left","baseline":"alphabetic"},
 "encoding":{"x":{"datum":12566,"type":"quantitative","scale":{"type":"log","domain":[10,10000],"nice":false},"axis":null},
  "y":{"datum":5.56e-5,"type":"quantitative","scale":{"type":"log","domain":[1e-9,0.0001],"nice":false},"axis":null}}},
{"data":{"values":[{}]},"mark":{"type":"text","text":"Feedback","font":"DejaVu Sans","fontSize":44,"color":"black","align":"left","baseline":"alphabetic"},
 "encoding":{"x":{"datum":12566,"type":"quantitative","scale":{"type":"log","domain":[10,10000],"nice":false},"axis":null},
  "y":{"datum":6.49e-7,"type":"quantitative","scale":{"type":"log","domain":[1e-9,0.0001],"nice":false},"axis":null}}}
]
}
